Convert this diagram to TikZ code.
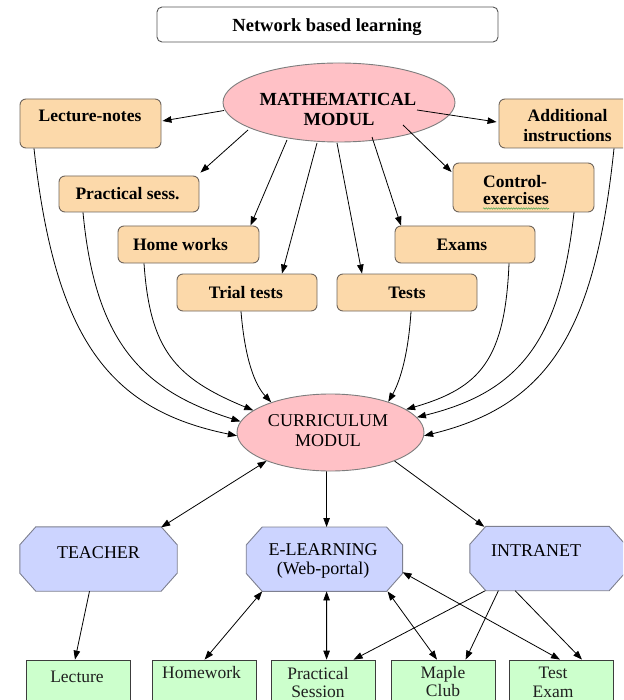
\documentclass[tikz,border=0pt]{standalone}
\usepackage{fontspec}
\setmainfont{LiberationSerif}[Extension=.ttf, UprightFont=*-Regular, BoldFont=*-Bold, ItalicFont=*-Italic, BoldItalicFont=*-BoldItalic]
\usetikzlibrary{arrows.meta,shapes.geometric,decorations.pathmorphing}

\definecolor{orangefill}{HTML}{FCD9AA}
\definecolor{orangeline}{HTML}{6F655C}
\definecolor{pinkfill}{HTML}{FFC1C6}
\definecolor{pinkline}{HTML}{7D7D7D}
\definecolor{lavfill}{HTML}{CCD4FF}
\definecolor{lavline}{HTML}{7E8090}
\definecolor{greenfill}{HTML}{CCFFCC}
\definecolor{greenline}{HTML}{3C3C3C}
\definecolor{spellgreen}{HTML}{5DAA5D}
\definecolor{titleline}{HTML}{555555}

\tikzset{
  titlebox/.style={draw=titleline, fill=white, rounded corners=5pt, line width=0.9pt, inner sep=0pt},
  obox/.style={draw=orangeline, fill=orangefill, rounded corners=6pt, line width=0.9pt, inner sep=0pt},
  oval/.style={ellipse, draw=pinkline, fill=pinkfill, line width=0.9pt, inner sep=0pt},
  octframe/.style={rectangle, inner sep=0pt, minimum height=64},
  octline/.style={draw=lavline, fill=lavfill, line width=0.9pt},
  gbox/.style={draw=greenline, fill=greenfill, line width=0.8pt, inner sep=0pt, minimum width=104, minimum height=52},
  lblb/.style={anchor=base, inner sep=0pt, font=\fontsize{17.5}{20}\selectfont\bfseries},
  lblbig/.style={anchor=base, inner sep=0pt, font=\fontsize{18.5}{21}\selectfont\bfseries},
  lblmid/.style={anchor=base, inner sep=0pt, font=\fontsize{18}{21}\selectfont},
  lbllow/.style={anchor=base, inner sep=0pt, text=black!88, font=\fontsize{17.5}{20}\selectfont},
  tip/.tip={Triangle[length=9pt,width=6.5pt]},
  arr/.style={-tip, line width=0.8pt},
  dbl/.style={tip-tip, line width=0.8pt},
  flow/.style={-tip, line width=0.8pt},
}

% chamfered eight-sided outline around an invisible frame node
\newcommand\drawoctagon[1]{%
  \path[octline] ([xshift=16pt]#1.north west) -- ([xshift=-16pt]#1.north east)
    -- ([shift={(0,18)}]#1.north east) -- ([shift={(0,-18)}]#1.south east)
    -- ([xshift=-16pt]#1.south east) -- ([xshift=16pt]#1.south west)
    -- ([shift={(0,-18)}]#1.south west) -- ([shift={(0,18)}]#1.north west) -- cycle;}

\begin{document}
\begin{tikzpicture}[x=1pt,y=-1pt]
\useasboundingbox (0,0) rectangle (623,700);
\clip (0,0) rectangle (623,700);

% heading
\node[titlebox, minimum width=341, minimum height=35] (title) at (327.5,24.5) {};
\node[lblbig] (titleT) at (327,31.7) {Network based learning};

% central modules
\node[oval, minimum width=232, minimum height=79] (math) at (339,102.5) {};
\node[lblbig] (mathT1) at (338,105.7) {MATHEMATICAL};
\node[lblbig] (mathT2) at (339,126) {MODUL};

\node[oval, minimum width=187, minimum height=77] (curr) at (330.5,432.5) {};
\node[lblmid] (currT1) at (328,426) {CURRICULUM};
\node[lblmid] (currT2) at (328,446) {MODUL};

% module components
\node[obox, minimum width=141, minimum height=49] (lect) at (90.5,123.5) {};
\node[lblb] (lectT) at (90,121.7) {Lecture-notes};

\node[obox, minimum width=140, minimum height=36] (prac) at (129,194) {};
\node[lblb] (pracT) at (127.5,200) {Practical sess.};

\node[obox, minimum width=136, minimum height=49] (addi) at (567,123.5) {};
\node[lblb] (addiT1) at (567.5,121.7) {Additional};
\node[lblb] (addiT2) at (567.5,141.7) {instructions};

\node[obox, minimum width=141, minimum height=49] (ctrl) at (523.5,187.5) {};
\node[lblb, anchor=base west] (ctrlT1) at (483,187.3) {Control-};
\node[lblb, anchor=base west] (ctrlT2) at (483,205) {exercises};
\draw[spellgreen, line width=0.6pt, decorate,
      decoration={snake, segment length=2.5pt, amplitude=0.7pt}]
  ([shift={(0,3.5)}]ctrlT2.base west) -- ([shift={(0,3.5)}]ctrlT2.base east);

\node[obox, minimum width=141, minimum height=37] (home) at (188.5,244.5) {};
\node[lblb] (homeT) at (180.5,250.7) {Home works};

\node[obox, minimum width=140, minimum height=37] (exam) at (465,244.5) {};
\node[lblb] (examT) at (462,250.7) {Exams};

\node[obox, minimum width=140, minimum height=37] (trial) at (247,292.5) {};
\node[lblb] (trialT) at (246,298.3) {Trial tests};

\node[obox, minimum width=140, minimum height=37] (tests) at (407,292.5) {};
\node[lblb] (testsT) at (407,298.3) {Tests};

% from the mathematical module to its parts
\draw[arr] ([shift={(-115,8)}]math.center)   -- ([shift={(1,-2.5)}]lect.east);
\draw[arr] ([shift={(-91,27.5)}]math.center) -- ([shift={(1,-3)}]prac.north east);
\draw[arr] ([shift={(-52,37.5)}]math.center) -- ([xshift=62pt]home.north);
\draw[arr] ([shift={(-22,40.5)}]math.center) -- ([xshift=35pt]trial.north);
\draw[arr] ([shift={(-2,40.5)}]math.center)  -- ([xshift=-45pt]tests.north);
\draw[arr] ([shift={(33,34.5)}]math.center)  -- ([xshift=-64pt]exam.north);
\draw[arr] ([shift={(64,22.5)}]math.center)  -- ([shift={(-1,-15.5)}]ctrl.west);
\draw[arr] ([shift={(78,7.5)}]math.center)   -- ([shift={(-2,-1.5)}]addi.west);

% from the parts into the curriculum module
\draw[flow] ([xshift=-56.5pt]lect.south) .. controls (55,340) and (110,410) .. (curr.182);
\draw[flow] ([xshift=-46pt]prac.south) .. controls (95,340) and (140,390) .. (curr.173.5);
\draw[flow] ([xshift=-44.5pt]home.south) .. controls (150,350) and (175,378) .. (curr.164);
\draw[flow] ([xshift=-6pt]trial.south) .. controls (245,360) and (255,385) .. (curr.153.5);
\draw[flow] ([xshift=4pt]tests.south) .. controls (408,360) and (398,385) .. (curr.28.4);
\draw[flow] ([xshift=44pt]exam.south) .. controls (505,360) and (480,388) .. (curr.17.9);
\draw[flow] ([xshift=50.5pt]ctrl.south) .. controls (560,340) and (520,392) .. (curr.10.1);
\draw[flow] ([xshift=47pt]addi.south) .. controls (595,330) and (550,405) .. (curr.-2.1);

% delivery channels
\node[octframe, minimum width=157] (teach) at (98.5,559) {};
\drawoctagon{teach}
\node[lblmid] (teachT) at (98.5,558) {TEACHER};

\node[octframe, minimum width=156] (elearn) at (324.4,559.2) {};
\drawoctagon{elearn}
\node[lblmid] (elearnT1) at (323.2,555) {E-LEARNING};
\node[lblmid] (elearnT2) at (323.2,574) {(Web-portal)};

\node[octframe, minimum width=155] (intra) at (547.5,558.5) {};
\drawoctagon{intra}
\node[lblmid] (intraT) at (536,556.7) {INTRANET};

% activities
\node[gbox] (lecbox) at (78,686) {};
\node[lbllow] (lecT) at (77,682.7) {Lecture};
\node[gbox] (hwbox) at (204,686) {};
\node[lbllow] (hwT) at (201.5,678.3) {Homework};
\node[gbox] (psbox) at (323,686) {};
\node[lbllow] (psT1) at (318,679.3) {Practical};
\node[lbllow] (psT2) at (318,697.5) {Session};
\node[gbox] (mcbox) at (443,686) {};
\node[lbllow] (mcT1) at (443,678.3) {Maple};
\node[lbllow] (mcT2) at (443,696.7) {Club};
\node[gbox] (tebox) at (561,686) {};
\node[lbllow] (teT1) at (553,678.3) {Test};
\node[lbllow] (teT2) at (553,697) {Exam};

% curriculum to channels
\draw[dbl] (curr.204.2) -- ([shift={(-16,0.5)}]teach.north east);
\draw[arr] ([xshift=-4pt]curr.south) -- ([xshift=2.2pt]elearn.north);
\draw[arr] (curr.-24.3) -- ([shift={(14.5,0.5)}]intra.north west);

% channels to activities
\draw[arr] ([xshift=-9pt]teach.south) -- ([xshift=-3pt]lecbox.north);
\draw[dbl] ([xshift=16pt]elearn.south west) -- ([xshift=0.6pt]hwbox.north);
\draw[dbl] ([xshift=2.2pt]elearn.south) -- ([xshift=3.6pt]psbox.north);
\draw[dbl] ([xshift=-15pt]elearn.south east) -- ([xshift=-6pt]mcbox.north);
\draw[dbl] ([shift={(0,13)}]elearn.east) -- ([xshift=-1pt]tebox.north);
\draw[arr] ([xshift=15.5pt]intra.south west) -- ([xshift=30.6pt]psbox.north);
\draw[arr] ([xshift=28.6pt]intra.south west) -- ([xshift=22.6pt]mcbox.north);
\draw[arr] ([xshift=45.3pt]intra.south west) -- ([xshift=21pt]tebox.north);
\end{tikzpicture}
\end{document}
